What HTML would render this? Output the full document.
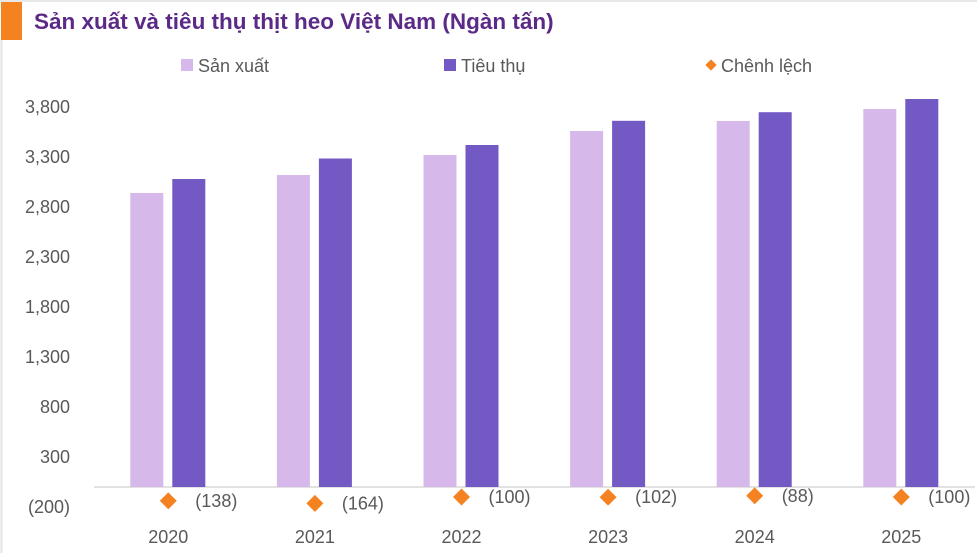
<!DOCTYPE html>
<html><head><meta charset="utf-8"><style>
body{margin:0;background:#fff;}
svg{display:block;font-family:"Liberation Sans",sans-serif;}
</style></head><body>
<svg id="c" width="977" height="553">
<rect x="0" y="0" width="977" height="553" fill="#fff"/>
<line x1="1.5" y1="40" x2="1.5" y2="553" stroke="#e3e3e3" stroke-width="2"/>
<line x1="0" y1="1" x2="977" y2="1" stroke="#e8e8e8" stroke-width="2"/>
<rect x="1" y="2" width="21" height="38" fill="#f58220"/>
<text x="34" y="29" font-size="22.5" font-weight="bold" fill="#5b2a86">Sản xuất và tiêu thụ thịt heo Việt Nam (Ngàn tấn)</text>
<g>
<rect x="181" y="59" width="12" height="12" fill="#d7b8ea"/>
<text x="198" y="72" font-size="18" fill="#595959">Sản xuất</text>
<rect x="444" y="59" width="12" height="12" fill="#7259c4"/>
<text x="461" y="72" font-size="18" fill="#595959">Tiêu thụ</text>
<rect x="707" y="61" width="8" height="8" fill="#f58220" transform="rotate(45 711 65)"/>
<text x="721" y="72" font-size="18" fill="#595959">Chênh lệch</text>
</g>
<g id="plot"></g>
</svg>
<script>
const categories=["2020","2021","2022","2023","2024","2025"];
const production=[2940,3120,3320,3560,3660,3780];
const consumption=[3080,3285,3420,3662,3748,3880];
const diffs=[-138,-164,-100,-102,-88,-100];
const diffLabels=["(138)","(164)","(100)","(102)","(88)","(100)"];
const yTicks=[-200,300,800,1300,1800,2300,2800,3300,3800];
const yTickLabels=["(200)","300","800","1,300","1,800","2,300","2,800","3,300","3,800"];

const NS="http://www.w3.org/2000/svg";
const g=document.getElementById('plot');
const y0=487, k=0.1;
function y(v){return y0-v*k;}
const x0=95, step=146.6;
function xc(i){return x0+step*(i+0.5);}
function mk(tag,attrs){const e=document.createElementNS(NS,tag);for(const a in attrs)e.setAttribute(a,attrs[a]);g.appendChild(e);return e;}
yTicks.forEach((t,i)=>{
  const e=mk('text',{x:70,y:y(t)+6,'font-size':18,fill:'#595959','text-anchor':'end'});
  e.textContent=yTickLabels[i];
  
  
});
const ax=mk('line',{x1:94,y1:y0,x2:975,y2:y0,stroke:'#d9d9d9','stroke-width':1.5});


categories.forEach((c,i)=>{
  const cx=xc(i);
  const b1=mk('rect',{x:cx-38,y:y(production[i]),width:33,height:y0-y(production[i]),fill:'#d7b8ea'});
  
  
  const b2=mk('rect',{x:cx+4,y:y(consumption[i]),width:33,height:y0-y(consumption[i]),fill:'#7259c4'});
  
  
  const dy=y(diffs[i]);
  const d=mk('rect',{x:cx-6,y:dy-6,width:12,height:12,fill:'#f58220',transform:`rotate(45 ${cx} ${dy})`});
  
  
  const dl=mk('text',{x:cx+27,y:dy+6,'font-size':18,fill:'#595959'});
  dl.textContent=diffLabels[i];
  
  
  const xl=mk('text',{x:cx,y:543,'font-size':18,fill:'#595959','text-anchor':'middle'});
  xl.textContent=c;
  
  
});
</script>
</body></html>
